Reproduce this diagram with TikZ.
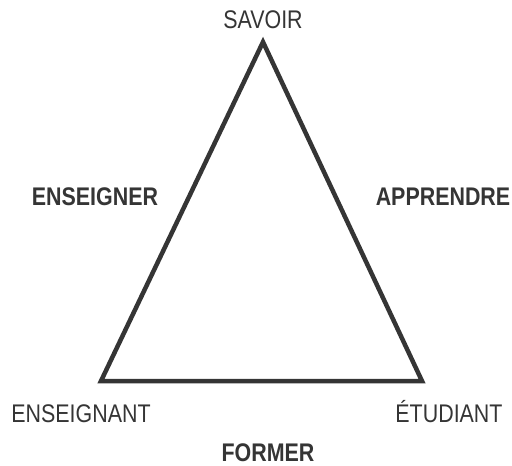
\documentclass[tikz,border=0pt]{standalone}
\usepackage{fontspec}
\setmainfont[FakeStretch=0.84]{Liberation Sans}
\usepackage{tikz}
\usetikzlibrary{positioning,calc}

\definecolor{ink}{HTML}{353535}

\begin{document}
\begin{tikzpicture}[x=1pt, y=-1pt,
    pole/.style={font=\fontsize{25.5}{25.5}\selectfont, text=ink, anchor=base, inner sep=0pt},
    action/.style={pole, font=\fontsize{25.5}{25.5}\selectfont\bfseries}]
    \useasboundingbox (0,0) rectangle (512,466);

    % Corners of the triangle
    \coordinate (top) at (263, 42);
    \coordinate (left) at (101, 381);
    \coordinate (right) at (422, 381);

    \draw[ink, line width=4.5pt, line join=miter] (top) -- (right) -- (left) -- cycle;

    % Poles
    \node[pole] (savoir) at (263, 28) {SAVOIR};
    \node[pole] (enseignant) at (81, 422) {ENSEIGNANT};
    \node[pole] (etudiant) at (449, 422) {ÉTUDIANT};

    % Actions
    \node[action] (enseigner) at (95, 205) {ENSEIGNER};
    \node[action] (apprendre) at (443, 205) {APPRENDRE};
    \node[action] (former) at (268, 461) {FORMER};
\end{tikzpicture}
\end{document}
